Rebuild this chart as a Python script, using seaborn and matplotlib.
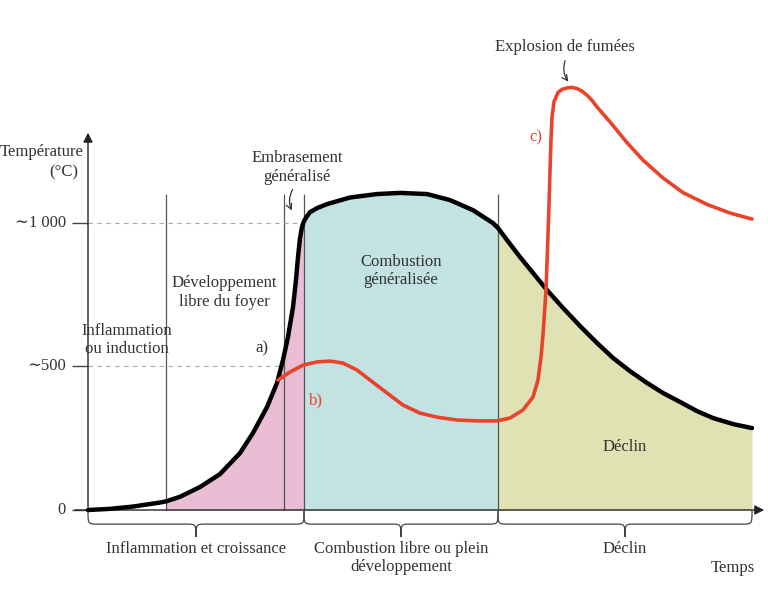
import numpy as np
import matplotlib
matplotlib.use("Agg")
import matplotlib.pyplot as plt
from matplotlib.path import Path
from matplotlib.patches import PathPatch
import pandas as pd
import seaborn as sns

# time (arbitrary units) and temperature (°C)
time_a = [0, 22, 45, 72, 78, 92, 112, 132, 152, 165, 179, 189, 195, 200, 205, 208, 210,
          212, 214, 216, 219, 222, 229, 239, 262, 289, 312, 339, 362, 385, 405, 410, 419,
          432, 459, 475, 492, 509, 525, 542, 559, 575, 592, 609, 625, 645, 664]
temp_a = [0, 4, 12, 26, 30, 46, 80, 125, 198, 268, 358, 442, 522, 602, 706, 800, 880,
          945, 985, 1005, 1022, 1036, 1050, 1064, 1087, 1099, 1103, 1099, 1078, 1043, 998,
          981, 939, 880, 765, 703, 640, 581, 529, 483, 442, 407, 376, 344, 320, 299, 285]

time_bc = [190, 202, 215, 229, 242, 255, 269, 282, 299, 315, 332, 349, 369, 389, 409, 422,
           435, 445, 450, 453, 455, 458, 460, 461, 462, 463, 464, 466, 470, 474, 479, 484,
           489, 494, 499, 504, 509, 522, 539, 555, 575, 595, 619, 642, 664]
temp_bc = [452, 480, 504, 515, 518, 511, 487, 452, 407, 365, 337, 323, 313, 310, 310, 320,
           348, 393, 452, 532, 609, 765, 957, 1060, 1180, 1290, 1365, 1420, 1452, 1463,
           1468, 1470, 1466, 1457, 1443, 1425, 1402, 1350, 1278, 1217, 1155, 1104, 1063,
           1033, 1012]

phase_lines = [78, 196, 216, 410]
t_end = 664
ytick_values = [0, 500, 1000]
ytick_labels = ["0", "∼500", "∼1 000"]
phase_names = ["Inflammation et croissance", "Combustion libre ou plein\ndéveloppement", "Déclin"]

fill_colors = ["#e9bdd4", "#c2e3e2", "#e0e2b3"]
red = "#e8432b"
ink = "#333333"
fs = 12


def draw_brace(ax, x0, x1, y_top, y_mid, y_tip, r=10):
    xm = (x0 + x1) / 2
    verts = [(x0, y_top), (x0, y_mid), (x0, y_mid), (x0 + r, y_mid),
             (xm - r, y_mid),
             (xm, y_mid), (xm, y_mid), (xm, y_tip),
             (xm, y_mid), (xm, y_mid), (xm + r, y_mid),
             (x1 - r, y_mid),
             (x1, y_mid), (x1, y_mid), (x1, y_top)]
    codes = [Path.MOVETO, Path.CURVE4, Path.CURVE4, Path.CURVE4,
             Path.LINETO,
             Path.CURVE4, Path.CURVE4, Path.CURVE4,
             Path.CURVE4, Path.CURVE4, Path.CURVE4,
             Path.LINETO,
             Path.CURVE4, Path.CURVE4, Path.CURVE4]
    ax.add_patch(PathPatch(Path(verts, codes), fill=False, edgecolor="#444444", lw=0.9))


sns.set_style("white")
plt.rcParams["font.family"] = ["Liberation Serif", "DejaVu Serif"]

fig = plt.figure(figsize=(7.68, 6.01), dpi=100)
ax = fig.add_axes([0, 0, 1, 1])
ax.set_xlim(-88, 680)
ax.set_ylim(-316.5, 1774)

df_a = pd.DataFrame({"t": time_a, "T": temp_a})
df_bc = pd.DataFrame({"t": time_bc, "T": temp_bc})
t = np.array(time_a)
T = np.array(temp_a)

# coloured phases under the main curve
bounds = [phase_lines[0], phase_lines[2], phase_lines[3], t_end]
for i, c in enumerate(fill_colors):
    m = (t >= bounds[i]) & (t <= bounds[i + 1])
    ax.fill_between(t[m], 0, T[m], color=c, lw=0, zorder=1)

ax.vlines(phase_lines, 0, 1100, color="#555555", lw=0.9, zorder=2)

# axes with arrows
ax.annotate("", xy=(0, 1322), xytext=(0, 0),
            arrowprops=dict(arrowstyle="-|>", color="#222222", lw=1, mutation_scale=14))
ax.annotate("", xy=(679, 0), xytext=(-16, 0),
            arrowprops=dict(arrowstyle="-|>", color="#222222", lw=1, mutation_scale=14))
ax.hlines(ytick_values, -16, 0, color="#444444", lw=1)
for v, lab in zip(ytick_values, ytick_labels):
    ax.text(-22, v, lab, ha="right", va="center", fontsize=fs, color=ink)

# dashed guides up to the rising curve
rise = t <= phase_lines[2]
for v in ytick_values[1:]:
    tc = np.interp(v, T[rise], t[rise])
    ax.hlines(v, 0, tc, color="#aaaaaa", lw=0.8, linestyles=(0, (4, 4)), zorder=2)

sns.lineplot(data=df_a, x="t", y="T", color="black", lw=3.2, sort=False,
             estimator=None, ax=ax, legend=False, zorder=4,
             solid_joinstyle="round", solid_capstyle="round")
sns.lineplot(data=df_bc, x="t", y="T", color=red, lw=2.6, sort=False,
             estimator=None, ax=ax, legend=False, zorder=5,
             solid_joinstyle="round", solid_capstyle="round")
ax.axis("off")

# braces below the time axis
brace_bounds = [0, phase_lines[2], phase_lines[3], t_end]
for i, name in enumerate(phase_names):
    x0, x1 = brace_bounds[i], brace_bounds[i + 1]
    draw_brace(ax, x0, x1, -3.5, -49, -94)
    ytxt = -136 if "\n" not in name else -167
    ax.text((x0 + x1) / 2, ytxt, name, ha="center", va="center", fontsize=fs,
            color=ink, linespacing=1.2)

ax.text(645, -202, "Temps", ha="center", va="center", fontsize=fs, color=ink)
ax.text(-4, 1245, "Température", ha="right", va="center", fontsize=fs, color=ink)
ax.text(-10, 1176, "(°C)", ha="right", va="center", fontsize=fs, color=ink)

ax.text(209, 1191, "Embrasement\ngénéralisé", ha="center", va="center", fontsize=fs,
        color=ink, linespacing=1.2)
ax.annotate("", xy=(205, 1033), xytext=(206, 1123),
            arrowprops=dict(arrowstyle="->", color=ink, lw=0.9,
                            connectionstyle="arc3,rad=0.3"))
ax.text(136, 757, "Développement\nlibre du foyer", ha="center", va="center",
        fontsize=fs, color=ink, linespacing=1.2)
ax.text(39, 591, "Inflammation\nou induction", ha="center", va="center",
        fontsize=fs, color=ink, linespacing=1.2)
ax.text(313, 831, "Combustion\ngénéralisée", ha="center", va="center",
        fontsize=fs, color=ink, linespacing=1.2)
ax.text(537, 219, "Déclin", ha="center", va="center", fontsize=fs, color=ink)
ax.text(174, 563, "a)", ha="center", va="center", fontsize=fs, color=ink)
ax.text(228, 383, "b)", ha="center", va="center", fontsize=fs, color=red)
ax.text(448, 1297, "c)", ha="center", va="center", fontsize=fs, color=red)
ax.text(477, 1610, "Explosion de fumées", ha="center", va="center", fontsize=fs, color=ink)
ax.annotate("", xy=(482, 1482), xytext=(478, 1572),
            arrowprops=dict(arrowstyle="->", color=ink, lw=0.9,
                            connectionstyle="arc3,rad=0.3"))

fig.savefig("out.png", dpi=100)
